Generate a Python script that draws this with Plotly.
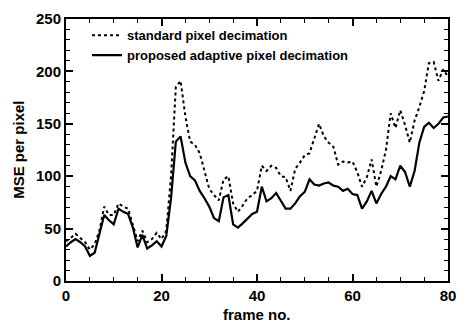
import plotly.graph_objects as go

frames = list(range(81))
standard = [38, 41, 45, 41, 37, 30, 35, 48, 71, 63, 63, 74, 71, 69, 54, 38, 48, 37, 40, 46,
            40, 48, 100, 185, 191, 157, 133, 130, 122, 104, 88, 82, 77, 97, 100, 74, 66, 72, 79, 82,
            86, 110, 105, 110, 108, 100, 99, 86, 107, 113, 120, 122, 136, 150, 138, 132, 128, 111, 114, 113,
            114, 104, 90, 99, 116, 90, 105, 125, 160, 146, 163, 149, 132, 153, 166, 181, 208, 209, 191, 202,
            195]
proposed = [33, 37, 40, 37, 33, 24, 27, 44, 63, 58, 54, 69, 66, 64, 51, 32, 44, 31, 34, 38,
            33, 43, 79, 133, 138, 113, 100, 96, 86, 79, 71, 60, 57, 80, 82, 54, 51, 55, 60, 64,
            66, 90, 76, 79, 84, 76, 69, 69, 74, 81, 85, 97, 92, 91, 93, 94, 91, 90, 86, 88,
            83, 82, 69, 76, 86, 74, 83, 90, 100, 97, 110, 104, 90, 105, 132, 147, 151, 146, 150, 156,
            157]

x_ticks = [0, 20, 40, 60, 80]
y_ticks = [0, 50, 100, 150, 200, 250]
x_title = "frame no."
y_title = "MSE per pixel"

FONT = "Liberation Sans"

fig = go.Figure()
fig.add_trace(go.Scatter(x=frames, y=standard, mode="lines", name="standard pixel decimation",
                         line=dict(color="black", width=2, dash="dot")))
fig.add_trace(go.Scatter(x=frames, y=proposed, mode="lines", name="proposed adaptive pixel decimation",
                         line=dict(color="black", width=2.2)))

axis_common = dict(showline=True, linecolor="black", linewidth=2, mirror="ticks",
                   ticks="inside", ticklen=7, tickwidth=1.5, tickcolor="black",
                   showgrid=False, zeroline=False,
                   tickfont=dict(family=FONT, size=15, color="black", weight="bold"))

fig.update_xaxes(range=[0, 80], tickvals=x_ticks,
                 minor=dict(ticks="inside", dtick=5, ticklen=4, tickwidth=1.2, tickcolor="black"),
                 **axis_common)
fig.update_yaxes(range=[0, 250], tickvals=y_ticks,
                 minor=dict(ticks="inside", dtick=10, ticklen=4, tickwidth=1.2, tickcolor="black"),
                 **axis_common)

title_font = dict(family=FONT, size=15, color="black", weight="bold")
fig.add_annotation(text=x_title, xref="paper", yref="paper", x=0.5, y=-0.127,
                   xanchor="center", yanchor="middle", showarrow=False, font=title_font)
fig.add_annotation(text=y_title, xref="paper", yref="paper", x=-0.126, y=0.5, textangle=-90,
                   xanchor="center", yanchor="middle", showarrow=False, font=title_font)

fig.update_layout(
    width=466, height=323,
    margin=dict(l=66, r=10, t=13, b=42),
    plot_bgcolor="white", paper_bgcolor="white",
    showlegend=True,
    legend=dict(x=0.055, y=0.995, xanchor="left", yanchor="top", bgcolor="rgba(0,0,0,0)",
                font=dict(family=FONT, size=13, color="black", weight="bold"),
                tracegroupgap=0, itemwidth=30),
)

fig.write_html("out.html", config={"displayModeBar": False},
               post_script="document.body.style.margin='0';")
